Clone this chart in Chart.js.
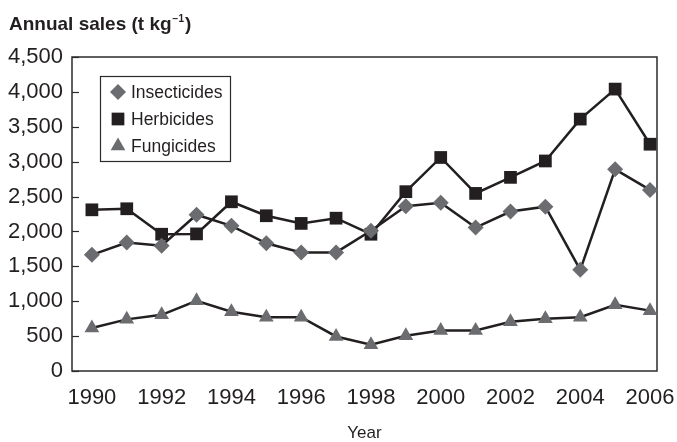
<!DOCTYPE html>
<html>
<head>
<meta charset="utf-8">
<script src="https://cdn.jsdelivr.net/npm/chart.js@4.4.1/dist/chart.umd.min.js"></script>
<style>
html, body { margin: 0; padding: 0; background: #fff; }
#wrap { width: 677px; height: 442px; position: relative; }
</style>
</head>
<body>
<div id="wrap"><canvas id="chart" width="677" height="442"></canvas></div>
<script>
// Данные (t kg-1)
const years = [1990, 1991, 1992, 1993, 1994, 1995, 1996, 1997, 1998, 1999, 2000, 2001, 2002, 2003, 2004, 2005, 2006];
const insecticides = [1665, 1840, 1795, 2240, 2080, 1830, 1700, 1700, 2010, 2360, 2410, 2055, 2285, 2355, 1450, 2890, 2595];
const herbicides = [2310, 2325, 1960, 1965, 2425, 2225, 2115, 2190, 1960, 2570, 3060, 2545, 2775, 3010, 3610, 4040, 3250];
const fungicides = [615, 740, 805, 1005, 850, 770, 770, 495, 375, 505, 580, 580, 705, 750, 770, 950, 865];

const xTicks = [1990, 1992, 1994, 1996, 1998, 2000, 2002, 2004, 2006];
const yTicks = [0, 500, 1000, 1500, 2000, 2500, 3000, 3500, 4000, 4500];

const seriesNames = ['Insecticides', 'Herbicides', 'Fungicides'];
const seriesMarkers = ['rectRot', 'rect', 'triangle'];

const LINE = '#231f20';
const GRAY = '#6b6c6f';
const markerColors = [GRAY, LINE, GRAY];
const markerSizes = [8, 9, 8.5];

const FONT = '"Liberation Sans", Arial, sans-serif';

function toPoints(values) {
    return values.map((v, i) => ({ x: years[i], y: v }));
}

// рисуем маркер для легенды
function drawMarker(ctx, style, x, y, r, color) {
    ctx.save();
    ctx.fillStyle = color;
    ctx.beginPath();
    if (style === 'rectRot') {
        ctx.moveTo(x, y - r);
        ctx.lineTo(x + r, y);
        ctx.lineTo(x, y + r);
        ctx.lineTo(x - r, y);
    } else if (style === 'rect') {
        const s = r * Math.SQRT1_2;
        ctx.rect(x - s, y - s, 2 * s, 2 * s);
    } else {
        ctx.moveTo(x, y - r);
        ctx.lineTo(x + r * 0.866, y + r / 2);
        ctx.lineTo(x - r * 0.866, y + r / 2);
    }
    ctx.closePath();
    ctx.fill();
    ctx.restore();
}

const framePlugin = {
    id: 'frame',
    beforeDatasetsDraw(chart) {
        const ctx = chart.ctx;
        const a = chart.chartArea;
        const yScale = chart.scales.y;
        ctx.save();
        ctx.strokeStyle = '#2b2b2b';
        ctx.lineWidth = 1.5;
        ctx.strokeRect(a.left, a.top, a.right - a.left, a.bottom - a.top);
        // внутренние засечки по оси Y
        ctx.lineWidth = 1.2;
        yTicks.forEach(v => {
            const py = Math.round(yScale.getPixelForValue(v)) + 0.5;
            ctx.beginPath();
            ctx.moveTo(a.left, py);
            ctx.lineTo(a.left + 7, py);
            ctx.stroke();
        });
        ctx.restore();
    },
    afterDraw(chart) {
        const ctx = chart.ctx;
        ctx.save();
        // заголовок оси Y
        ctx.fillStyle = LINE;
        ctx.textBaseline = 'alphabetic';
        ctx.font = 'bold 19px ' + FONT;
        const main = 'Annual sales (t kg';
        ctx.fillText(main, 9, 30);
        let w = ctx.measureText(main).width;
        ctx.font = 'bold 10px ' + FONT;
        ctx.fillText('\u22121', 9 + w + 1, 22);
        const w2 = ctx.measureText('\u22121').width;
        ctx.font = 'bold 19px ' + FONT;
        ctx.fillText(')', 9 + w + w2 + 2, 30);

        // легенда
        ctx.strokeStyle = '#2b2b2b';
        ctx.lineWidth = 1.2;
        ctx.strokeRect(100.5, 76.5, 130, 85);
        ctx.font = '17.5px ' + FONT;
        ctx.textBaseline = 'middle';
        seriesNames.forEach((name, i) => {
            const cy = 92 + i * 27;
            drawMarker(ctx, seriesMarkers[i], 118, cy, markerSizes[i], markerColors[i]);
            ctx.fillStyle = LINE;
            ctx.fillText(name, 131, cy + 1);
        });
        ctx.restore();
    }
};

function makeDataset(label, values, marker, i) {
    return {
        label: label,
        data: toPoints(values),
        borderColor: LINE,
        borderWidth: 2.5,
        pointStyle: marker,
        pointRadius: markerSizes[i],
        pointHoverRadius: markerSizes[i],
        pointBackgroundColor: markerColors[i],
        pointBorderWidth: 0,
        pointBorderColor: markerColors[i],
        tension: 0,
        clip: false
    };
}

new Chart(document.getElementById('chart'), {
    type: 'line',
    data: {
        datasets: [
            makeDataset(seriesNames[0], insecticides, seriesMarkers[0], 0),
            makeDataset(seriesNames[1], herbicides, seriesMarkers[1], 1),
            makeDataset(seriesNames[2], fungicides, seriesMarkers[2], 2)
        ]
    },
    options: {
        responsive: false,
        animation: false,
        layout: { padding: { top: 57, right: 20, left: 0, bottom: 0 } },
        plugins: {
            legend: { display: false },
            tooltip: { enabled: false },
            title: { display: false }
        },
        scales: {
            x: {
                type: 'linear',
                min: 1989.43,
                max: 2006.2,
                afterBuildTicks: scale => { scale.ticks = xTicks.map(v => ({ value: v })); },
                afterFit: scale => {
                    scale.height = 71;
                    scale.paddingLeft = 0;
                    scale.paddingRight = 0;
                },
                grid: { display: false, drawTicks: false },
                border: { display: false },
                ticks: {
                    padding: 14,
                    color: LINE,
                    font: { family: FONT, size: 22 },
                    callback: v => String(v),
                    maxRotation: 0,
                    autoSkip: false
                },
                title: {
                    display: true,
                    text: 'Year',
                    color: LINE,
                    font: { family: FONT, size: 17, lineHeight: 1.0 },
                    padding: { top: 4, bottom: 0 }
                }
            },
            y: {
                min: 0,
                max: 4500,
                afterBuildTicks: scale => { scale.ticks = yTicks.map(v => ({ value: v })); },
                afterFit: scale => {
                    scale.width = 72;
                    scale.paddingTop = 0;
                    scale.paddingBottom = 0;
                },
                grid: { display: false, drawTicks: false },
                border: { display: false },
                ticks: {
                    padding: 9,
                    color: LINE,
                    font: { family: FONT, size: 22 },
                    callback: v => v.toLocaleString('en-US')
                }
            }
        }
    },
    plugins: [framePlugin]
});
</script>
</body>
</html>
